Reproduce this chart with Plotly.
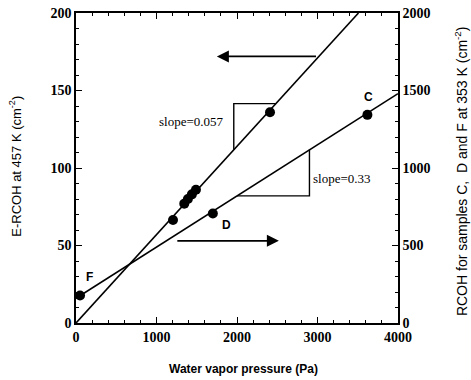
import plotly.graph_objects as go

# Data: left axis (E-RCOH at 457 K)
e_x = [1205, 1345, 1390, 1440, 1490, 2410]
e_y = [66.5, 77, 80, 83, 86, 136]
# Data: right axis (samples C, D, F at 353 K)
s_labels = ["F", "D", "C"]
s_x = [50, 1700, 3620]
s_y = [177, 706, 1343]
# Fit lines
slope1, icpt1 = 0.057, 0.0
slope2, icpt2 = 0.33, 160.0
x_max = 4000

SERIF = "Liberation Serif"
SANS = "Liberation Sans"
fig = go.Figure()

# line 1 (left axis)
x1_end = (200 - icpt1) / slope1
fig.add_trace(go.Scatter(x=[0, x1_end], y=[icpt1, icpt1 + slope1 * x1_end], mode="lines",
                         line=dict(color="black", width=1.6), showlegend=False, yaxis="y"))
# slope triangle 1
tx0, ty_top = 1960, 141.5
fig.add_trace(go.Scatter(x=[tx0, tx0, (ty_top - icpt1) / slope1],
                         y=[icpt1 + slope1 * tx0, ty_top, ty_top], mode="lines",
                         line=dict(color="black", width=1.4), showlegend=False, yaxis="y"))
fig.add_trace(go.Scatter(x=e_x, y=e_y, mode="markers",
                         marker=dict(color="black", size=10), showlegend=False, yaxis="y"))

# line 2 (right axis)
fig.add_trace(go.Scatter(x=[0, x_max], y=[icpt2, icpt2 + slope2 * x_max], mode="lines",
                         line=dict(color="black", width=1.6), showlegend=False, yaxis="y2"))
t2x0, t2x1 = 2000, 2900
fig.add_trace(go.Scatter(x=[t2x0, t2x1, t2x1],
                         y=[icpt2 + slope2 * t2x0, icpt2 + slope2 * t2x0, icpt2 + slope2 * t2x1],
                         mode="lines", line=dict(color="black", width=1.4), showlegend=False, yaxis="y2"))
fig.add_trace(go.Scatter(x=s_x, y=s_y, mode="markers",
                         marker=dict(color="black", size=10), showlegend=False, yaxis="y2"))

# arrows
fig.add_annotation(x=1750, y=172, ax=3000, ay=172, xref="x", yref="y", axref="x", ayref="y",
                   showarrow=True, arrowhead=2, arrowsize=1.5, arrowwidth=1.6, arrowcolor="black", text="")
fig.add_annotation(x=2520, y=53, ax=1240, ay=53, xref="x", yref="y", axref="x", ayref="y",
                   showarrow=True, arrowhead=2, arrowsize=1.5, arrowwidth=1.6, arrowcolor="black", text="")

# texts
tf = dict(family=SERIF, size=13, color="black")
fig.add_annotation(x=1440, y=130, text="slope=0.057", showarrow=False, font=tf, xref="x", yref="y")
fig.add_annotation(x=3300, y=93.5, text="slope=0.33", showarrow=False, font=tf, xref="x", yref="y")
lbl_pos = {"F": (165, 29.5), "D": (1875, 63), "C": (3630, 146)}
for lab in s_labels:
    px, py = lbl_pos[lab]
    fig.add_annotation(x=px, y=py, text="<b>" + lab + "</b>", showarrow=False,
                       font=dict(family=SANS, size=12, color="black"), xref="x", yref="y")

# axis titles as annotations
fig.add_annotation(x=0.52, y=0, xref="paper", yref="paper", yshift=-46, showarrow=False,
                   xanchor="center", yanchor="middle",
                   text="<b>Water vapor pressure (Pa)</b>", font=dict(family=SANS, size=12, color="black"))
fig.add_annotation(x=0, y=0.504, xref="paper", yref="paper", xshift=-61, showarrow=False, textangle=-90,
                   xanchor="center", yanchor="middle",
                   text="E-RCOH at 457 K (cm<sup>-2</sup>)", font=dict(family=SANS, size=13, color="black"))
fig.add_annotation(x=1, y=0.49, xref="paper", yref="paper", xshift=63, showarrow=False, textangle=-90,
                   xanchor="center", yanchor="middle",
                   text="RCOH for samples C,  D and F at 353 K (cm<sup>-2</sup>)",
                   font=dict(family=SANS, size=14, color="black"))

axis_common = dict(showgrid=False, zeroline=False, showline=True, linecolor="black", linewidth=1.5,
                   ticks="inside", tickcolor="black", ticklen=6, tickwidth=1.2, automargin=False,
                   ticklabeloverflow="allow",
                   tickfont=dict(family=SERIF, size=14, color="black", weight="bold"))
fig.update_layout(
    width=471, height=380,
    margin=dict(l=76, r=73, t=13, b=57),
    plot_bgcolor="white", paper_bgcolor="white",
    xaxis=dict(range=[0, 4000], tickvals=[0, 1000, 2000, 3000, 4000], mirror="ticks",
               minor=dict(ticks="inside", ticklen=3, dtick=200, tickcolor="black"),
               **axis_common),
    yaxis=dict(range=[0, 200], tickvals=[0, 50, 100, 150, 200],
               minor=dict(ticks="inside", ticklen=3, dtick=10, tickcolor="black"),
               **axis_common),
    yaxis2=dict(range=[0, 2000], tickvals=[0, 500, 1000, 1500, 2000], overlaying="y", side="right",
                minor=dict(ticks="inside", ticklen=3, dtick=100, tickcolor="black"),
                **axis_common),
)

fig.write_html("out.html", config={"displayModeBar": False},
               post_script="document.body.style.margin='0';")
